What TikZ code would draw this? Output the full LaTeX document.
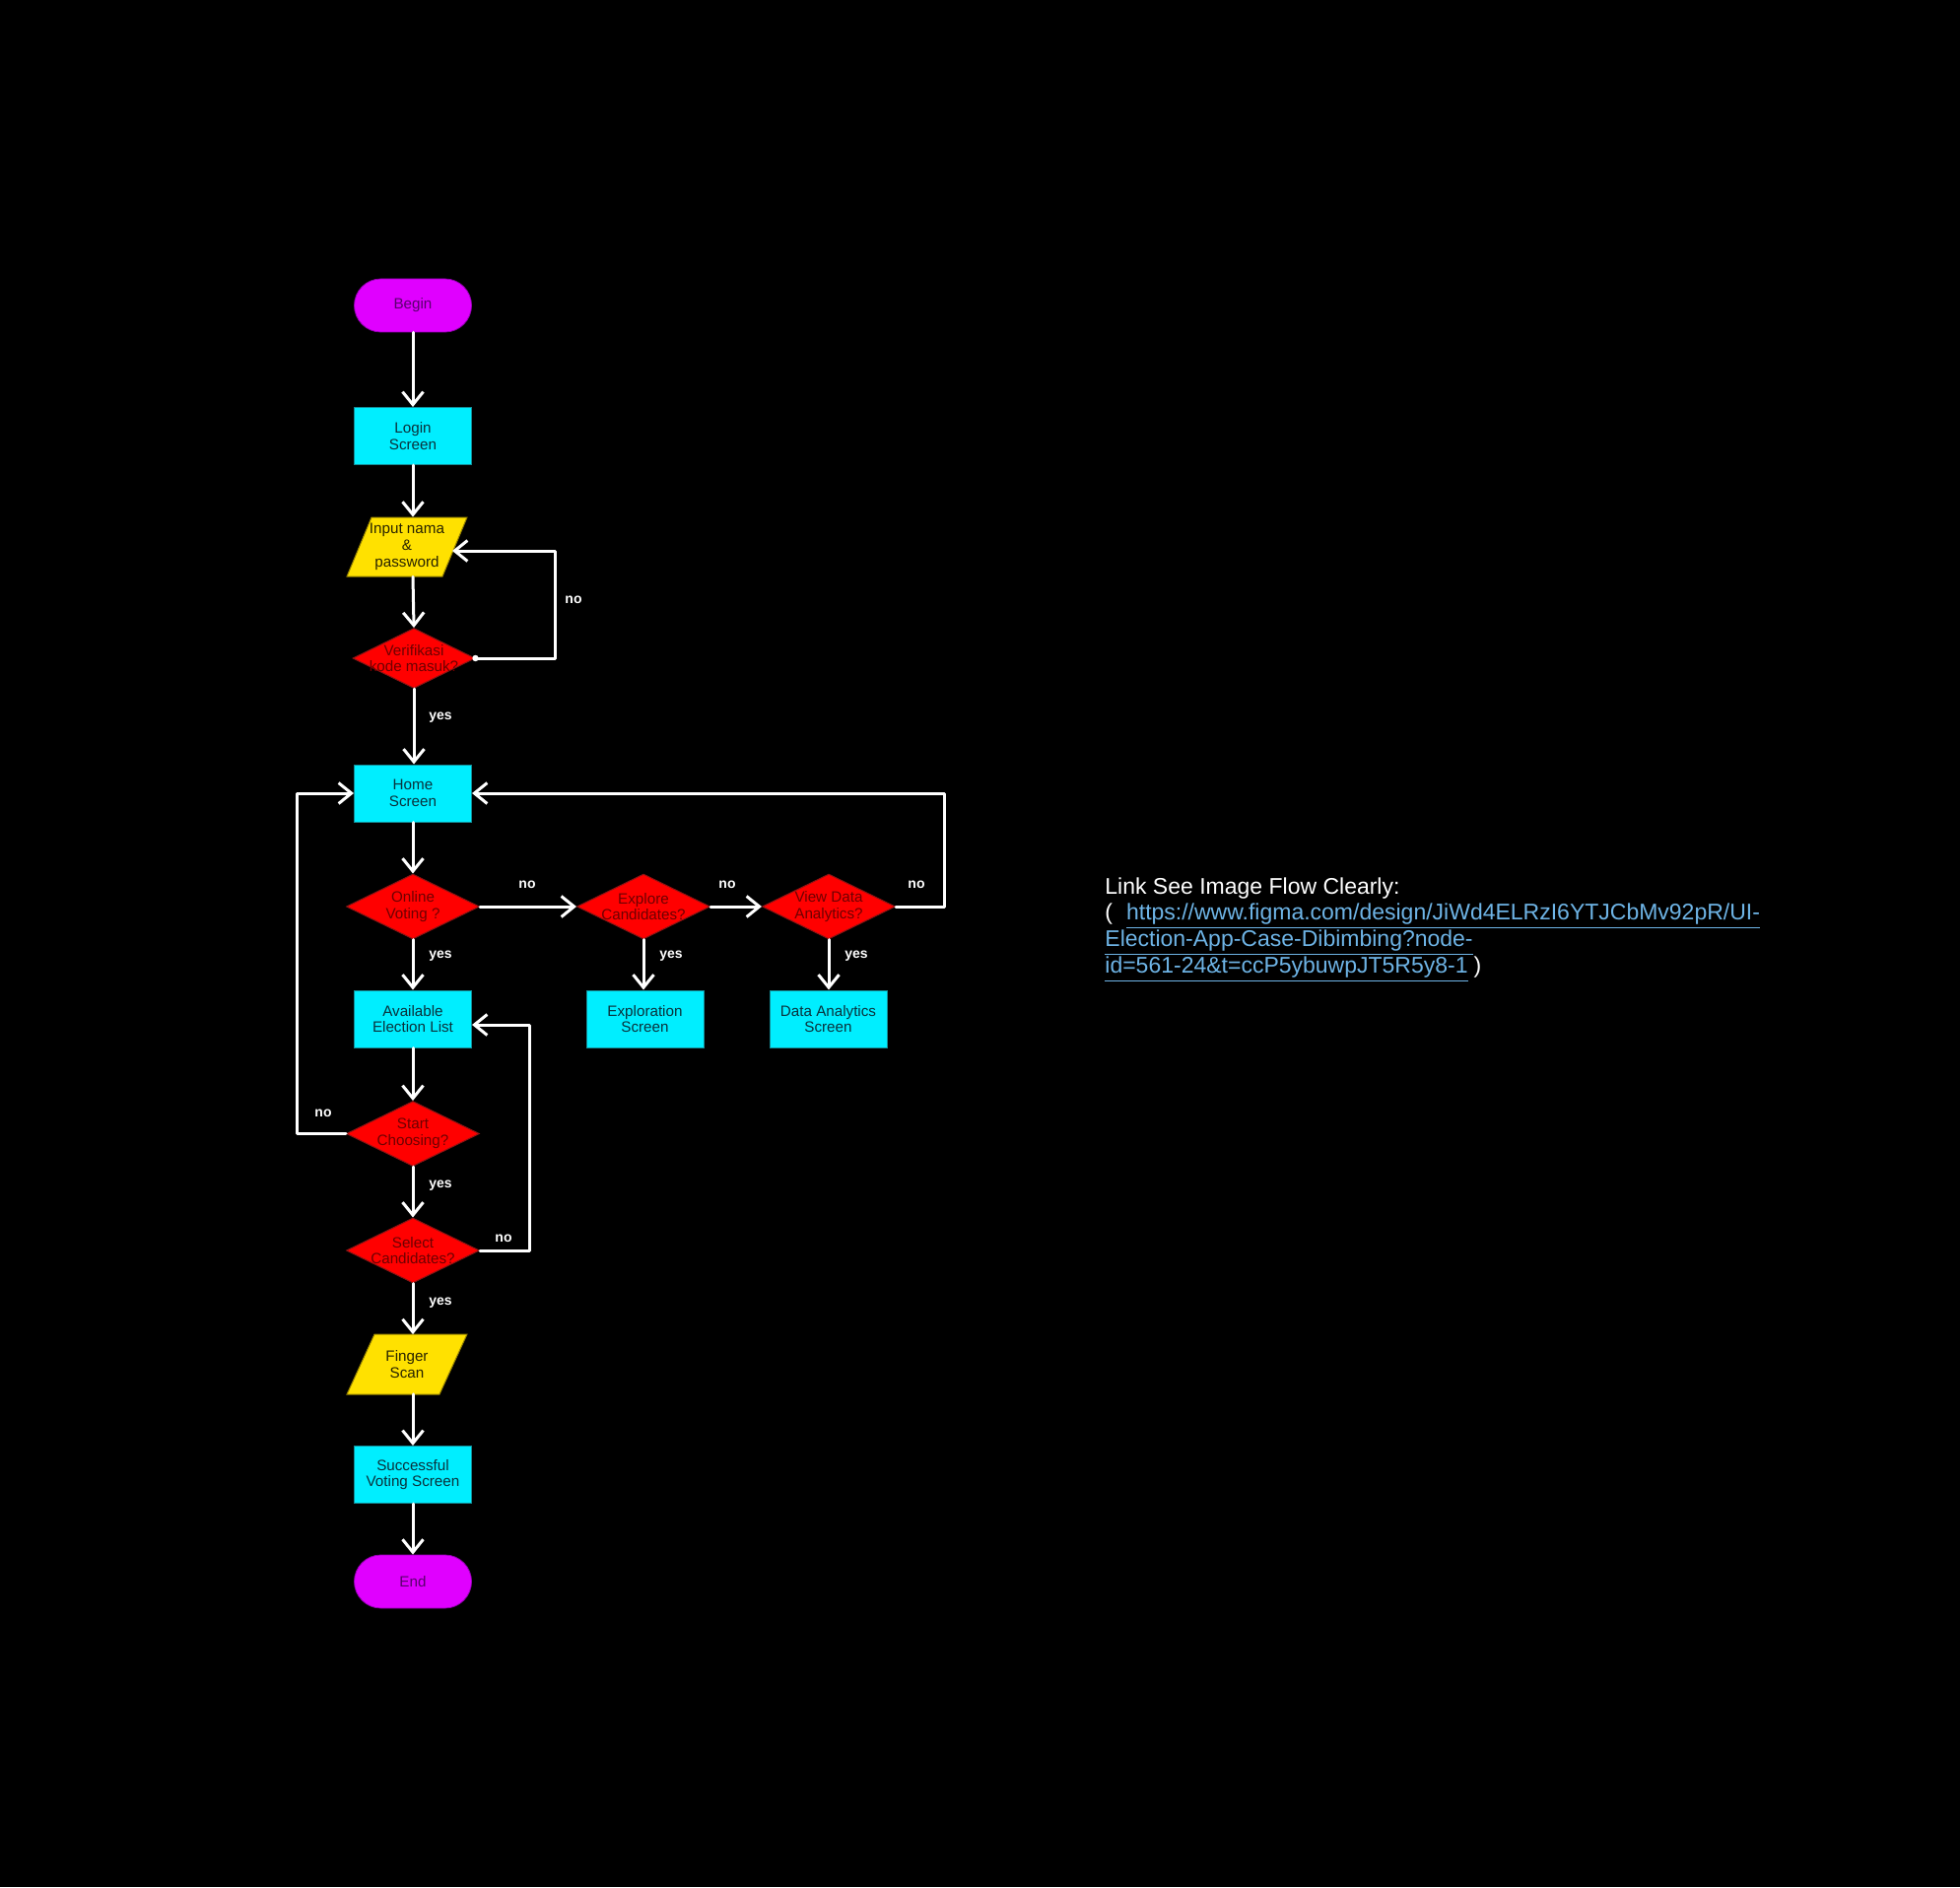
\documentclass[tikz,border=0pt]{standalone}
\usepackage{fontspec}
\setmainfont{Liberation Sans}
\usetikzlibrary{shapes.geometric,arrows.meta,calc}
\definecolor{mag}{RGB}{224,0,255}
\definecolor{magb}{RGB}{150,0,180}
\definecolor{magt}{RGB}{90,0,110}
\definecolor{cy}{RGB}{0,238,255}
\definecolor{cyb}{RGB}{20,140,150}
\definecolor{cyt}{RGB}{10,50,60}
\definecolor{rd}{RGB}{255,0,0}
\definecolor{rdb}{RGB}{140,20,20}
\definecolor{rdt}{RGB}{110,0,0}
\definecolor{yl}{RGB}{255,225,0}
\definecolor{ylb}{RGB}{150,130,0}
\definecolor{ylt}{RGB}{40,35,0}
\definecolor{lb}{RGB}{110,180,230}
\newcommand\lnk[1]{\textcolor{lb}{\underline{#1}}}
\begin{document}
\begin{tikzpicture}[x=0.5pt,y=-0.5pt,
  nfont/.style={font=\fontsize{7.6}{8.4}\selectfont},
  boxnode/.style={rectangle, fill=cy, draw=cyb, line width=0.5pt, minimum width=59.5pt, minimum height=29pt, inner sep=0pt, text=cyt, align=center, nfont},
  termnode/.style={rectangle, rounded corners=13.5pt, fill=mag, draw=magb, line width=0.4pt, minimum width=59.5pt, minimum height=27pt, inner sep=0pt, text=magt, nfont},
  decnode/.style={diamond, fill=rd, draw=rdb, line width=0.5pt, minimum width=67.5pt, minimum height=33pt, inner sep=0pt},
  dectext/.style={text=rdt, align=center, inner sep=0pt, nfont},
  paratext/.style={rectangle, minimum width=49pt, minimum height=30pt, inner sep=0pt, text=ylt, align=center, nfont},
  parafill/.style={fill=yl, draw=ylb, line width=0.5pt, line join=miter},
  arr/.style={draw=white, line width=1.5pt, line cap=round, line join=round, -{Straight Barb[length=6.5pt,width=10.5pt]}},
  lbl/.style={text=white, inner sep=0pt, font=\fontsize{7}{8}\selectfont\bfseries}
]
\fill[black] (0,0) rectangle (1989,1915);

% main column
\node[termnode] (begin) at (419,310) {Begin};
\node[boxnode] (login) at (419,442.5) {Login\\Screen};

\fill[parafill] (377,525) -- (474,525) -- (449,585) -- (352,585) -- cycle;
\node[paratext] (inp) at (413,555) {Input nama\\\&\\password};

\node[decnode, minimum width=62pt, minimum height=30.5pt] (ver) at (420,668) {};
\node[dectext] (verT) at (ver) {Verifikasi\\kode masuk?};

\node[boxnode] (home) at (419,805) {Home\\Screen};
\node[decnode] (online) at (419,920) {};
\node[dectext] (onlineT) at (online) {Online\\Voting ?};
\node[decnode] (explore) at (653,920) {};
\node[dectext] (exploreT) at (explore) {Explore\\Candidates?};
\node[decnode] (view) at (841,920) {};
\node[dectext] (viewT) at (view) {View Data\\Analytics?};

\node[boxnode] (avail) at (419,1034) {Available\\Election List};
\node[boxnode] (expl) at (654.5,1034) {Exploration\\Screen};
\node[boxnode] (da) at (840.5,1034) {Data Analytics\\Screen};

\node[decnode] (start) at (419,1150.5) {};
\node[dectext] (startT) at (start) {Start\\Choosing?};
\node[decnode] (select) at (419,1269) {};
\node[dectext] (selectT) at (select) {Select\\Candidates?};

\fill[parafill] (380,1354) -- (474,1354) -- (446,1415) -- (352,1415) -- cycle;
\node[paratext] (finger) at (413,1384.5) {Finger\\Scan};

\node[boxnode] (success) at (419,1496.5) {Successful\\Voting Screen};
\node[termnode] (end) at (419,1605) {End};

% connectors
\draw[arr] (begin.south) -- (login.north);
\draw[arr] (login.south) -- (login.south |- inp.north);
\draw[arr] (login.south |- inp.south) -- (ver.north);
\coordinate (inpR) at (459,559);
\fill[white] (ver.east) circle (3.2);
\draw[arr] (ver.east) -- (563,668) -- (563,559) -- (inpR);
\node[lbl] (noA) at (582,609) {no};
\draw[arr] (ver.south) -- (ver.south |- home.north);
\node[lbl] (yesA) at (447,728) {yes};

\draw[arr] (home.south) -- (online.north);
\draw[arr] (online.east) -- (explore.west);
\node[lbl] (noB) at (535,898) {no};
\draw[arr] (explore.east) -- (view.west);
\node[lbl] (noC) at (738,898) {no};
\draw[arr] (view.east) -- (958.5,920) -- (958.5,805) -- (home.east);
\node[lbl] (noD) at (930,898) {no};

\draw[arr] (online.south) -- (avail.north);
\node[lbl] (yesB) at (447,970) {yes};
\draw[arr] (explore.south) -- (explore.south |- expl.north);
\node[lbl] (yesC) at (681,970) {yes};
\draw[arr] (view.south) -- (view.south |- da.north);
\node[lbl] (yesD) at (869,970) {yes};

\draw[arr] (avail.south) -- (start.north);
\draw[arr] (start.west) -- (301.5,1150.5) -- (301.5,805) -- (home.west);
\node[lbl] (noE) at (328,1130) {no};
\draw[arr] (start.south) -- (select.north);
\node[lbl] (yesE) at (447,1203) {yes};
\draw[arr] (select.east) -- (537,1269) -- (537,1040) -- ($(avail.east)+(0,6)$);
\node[lbl] (noF) at (511,1257) {no};
\draw[arr] (select.south) -- (select.south |- finger.north);
\node[lbl] (yesF) at (447,1322) {yes};
\draw[arr] (select.south |- finger.south) -- (success.north);
\draw[arr] (success.south) -- (end.north);

% link text
\node[anchor=north west, align=left, text=white, inner sep=0pt,
  font=\fontsize{11.5}{13.45}\selectfont] (link) at (1121,890)
  {Link See Image Flow Clearly:\\
   (\hspace{7pt}\lnk{https://www.figma.com/design/JiWd4ELRzI6YTJCbMv92pR/UI-}\\
   \lnk{Election-App-Case-Dibimbing?node-}\\
   \lnk{id=561-24\&t=ccP5ybuwpJT5R5y8-1}\hspace{3pt})};
\end{tikzpicture}
\end{document}
